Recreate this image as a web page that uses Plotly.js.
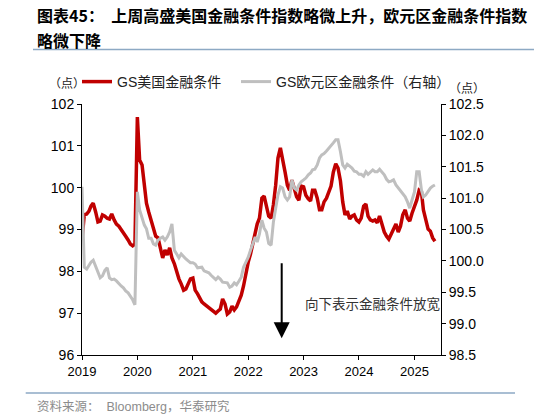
<!DOCTYPE html>
<html><head><meta charset="utf-8">
<script src="https://cdn.plot.ly/plotly-3.0.1.min.js"></script>
<style>html,body{margin:0;padding:0;background:#fff}#c{width:534px;height:417px}</style>
</head><body><div id="c"></div>
<script>
// semi-monthly observations (1st and 16th of each month), Jan 2019 – May 2025
var startYear = 2019;
var nPoints = 154;
var usFCI = [
98.75,99.35,99.37,99.44,99.56,99.63,99.42,99.18,99.20,99.35,99.32,99.27,99.25,99.37,99.23,99.13,99.08,99.01,98.94,98.84,98.75,98.65,98.61,98.65,
101.69,100.66,100.54,99.99,99.63,99.42,99.23,99.04,98.84,98.80,98.56,98.32,98.51,98.39,98.56,98.32,98.18,97.98,97.82,97.70,97.55,97.58,97.72,97.82,
97.84,97.55,97.46,97.36,97.27,97.22,97.17,97.15,97.10,97.05,97.00,97.05,97.10,97.34,97.22,96.98,97.03,97.17,97.08,97.15,97.29,97.43,97.65,97.96,
98.22,98.41,98.70,98.92,99.13,99.27,99.75,99.80,99.54,99.32,99.27,99.59,100.06,100.71,100.95,100.71,100.37,100.06,99.94,100.18,99.99,99.78,99.70,100.04,
100.02,99.82,99.73,99.68,99.94,99.94,99.75,99.47,99.47,99.66,99.75,99.87,100.04,100.37,100.57,100.47,100.16,99.66,99.35,99.44,99.25,99.32,99.35,99.23,
99.18,99.27,99.56,99.61,99.32,99.23,99.20,99.23,99.16,99.32,99.08,98.94,98.84,98.77,98.89,99.01,99.13,98.94,99.08,99.35,99.47,99.27,99.20,99.39,
99.56,99.70,99.94,99.90,99.47,99.27,99.01,98.96,98.80,98.72
];
var euFCI = [
101.18,99.90,99.87,99.93,99.98,100.01,99.90,99.82,99.73,99.76,99.85,99.89,99.73,99.70,99.71,99.68,99.63,99.60,99.57,99.52,99.49,99.44,99.38,99.30,
101.10,100.81,100.67,100.57,100.51,100.36,100.36,100.27,100.25,100.33,100.36,100.38,100.33,100.38,100.46,100.59,100.17,100.11,100.05,100.11,100.06,100.03,100.00,99.97,
99.97,99.95,99.89,99.90,99.90,99.84,99.82,99.81,99.77,99.74,99.70,99.74,99.71,99.66,99.66,99.65,99.58,99.60,99.65,99.62,99.68,99.74,99.90,99.98,
100.06,100.17,100.28,100.38,100.30,100.43,100.65,100.52,100.46,100.28,100.25,100.62,100.84,101.05,101.18,101.16,101.02,100.97,101.02,101.29,101.16,101.13,101.21,101.26,
101.29,101.32,101.37,101.40,101.45,101.46,101.53,101.64,101.69,101.71,101.75,101.80,101.83,101.88,101.93,101.93,101.74,101.53,101.48,101.54,101.51,101.48,101.43,101.42,
101.38,101.38,101.35,101.42,101.38,101.42,101.45,101.42,101.42,101.46,101.42,101.37,101.30,101.26,101.27,101.29,101.21,101.16,101.13,101.08,101.02,100.94,100.84,100.97,
101.10,101.42,101.42,101.13,101.02,101.05,101.11,101.16,101.19,101.21
];
var seriesNames = ['GS美国金融条件', 'GS欧元区金融条件（右轴）'];
var yearTicks = ['2019','2020','2021','2022','2023','2024','2025'];
var titleLines = ['图表45：  上周高盛美国金融条件指数略微上升，欧元区金融条件指数', '略微下降'];
var noteText = '向下表示金融条件放宽';
var sourceText = '资料来源：  Bloomberg，华泰研究';
var unitText = '（点）';

var dates = [];
(function(){
  for (var k = 0; k < nPoints; k++) {
    var m = Math.floor(k / 2);
    var y = startYear + Math.floor(m / 12);
    var mo = (m % 12) + 1;
    var d = (k % 2 === 0) ? '01' : '16';
    dates.push(y + '-' + (mo < 10 ? '0' + mo : mo) + '-' + d);
  }
})();

var tickFont = {family: 'Liberation Sans, Arial, sans-serif', size: 14, color: '#000'};
var cjk = 'Noto Sans CJK SC, sans-serif';
var legFont = {family: 'Liberation Sans, Noto Sans CJK SC, sans-serif', size: 14, color: '#222'};

var traces = [
  {x: dates, y: euFCI, name: seriesNames[1], type: 'scatter', mode: 'lines', yaxis: 'y2',
   line: {color: '#BFBFBF', width: 3}, legend: 'legend2'},
  {x: dates, y: usFCI, name: seriesNames[0], type: 'scatter', mode: 'lines', yaxis: 'y',
   line: {color: '#C00000', width: 3.5}, legend: 'legend'}
];

function px2x(p){ return (p - 82) / 359; }
function px2y(p){ return (355 - p) / 251; }

var layout = {
  width: 534, height: 417,
  margin: {l: 82, r: 93, t: 104, b: 62},
  paper_bgcolor: '#fff', plot_bgcolor: '#fff',
  showlegend: true,
  legend: {orientation: 'h', x: px2x(77), xanchor: 'left', y: px2y(82), yanchor: 'middle',
    font: legFont, bgcolor: 'rgba(0,0,0,0)'},
  legend2: {orientation: 'h', x: px2x(236), xanchor: 'left', y: px2y(82), yanchor: 'middle',
    font: legFont, bgcolor: 'rgba(0,0,0,0)'},
  xaxis: {type: 'date', range: ['2019-01-01', '2025-06-25'],
    tickvals: yearTicks.map(function(t){ return t + '-01-01'; }), ticktext: yearTicks,
    ticks: 'outside', ticklen: 4, tickcolor: '#000', showline: true, linecolor: '#000', linewidth: 1,
    showgrid: false, zeroline: false, tickfont: {family: 'Liberation Sans, Arial, sans-serif', size: 13, color: '#000'}},
  yaxis: {range: [96, 102], dtick: 1, tick0: 96, ticks: 'outside', ticklen: 4, tickcolor: '#000',
    showline: true, linecolor: '#000', linewidth: 1, showgrid: false, zeroline: false, tickfont: tickFont},
  yaxis2: {range: [98.5, 102.5], dtick: 0.5, tick0: 98.5, tickformat: '.1f', overlaying: 'y', side: 'right',
    ticks: 'outside', ticklen: 4, tickcolor: '#000', showline: true, linecolor: '#000', linewidth: 1,
    showgrid: false, zeroline: false, tickfont: tickFont},
  shapes: [
    {type: 'line', xref: 'paper', yref: 'paper', x0: px2x(33), x1: px2x(534), y0: px2y(49.5), y1: px2y(49.5),
     line: {color: '#8DA9C4', width: 1.5}},
    {type: 'line', xref: 'paper', yref: 'paper', x0: px2x(25.7), x1: px2x(515), y0: px2y(393), y1: px2y(393),
     line: {color: '#A9BED3', width: 2}}
  ],
  annotations: [
    {text: '<b>' + titleLines[0] + '</b>', xref: 'paper', yref: 'paper', x: px2x(35), y: px2y(15.4),
     xanchor: 'left', yanchor: 'middle', showarrow: false, font: {family: cjk, size: 16, color: '#000'}},
    {text: '<b>' + titleLines[1] + '</b>', xref: 'paper', yref: 'paper', x: px2x(35), y: px2y(40.3),
     xanchor: 'left', yanchor: 'middle', showarrow: false, font: {family: cjk, size: 16, color: '#000'}},
    {text: unitText, xref: 'paper', yref: 'paper', x: px2x(67), y: px2y(82), xanchor: 'center', yanchor: 'middle',
     showarrow: false, font: {family: cjk, size: 12, color: '#222'}},
    {text: unitText, xref: 'paper', yref: 'paper', x: px2x(467), y: px2y(87), xanchor: 'center', yanchor: 'middle',
     showarrow: false, font: {family: cjk, size: 12, color: '#222'}},
    {text: noteText, xref: 'paper', yref: 'paper', x: px2x(441.7), y: px2y(302.7), xanchor: 'right', yanchor: 'middle',
     showarrow: false, font: {family: cjk, size: 13.5, color: '#333'}},
    {text: '', xref: 'paper', yref: 'paper', x: px2x(281.7), y: px2y(338.3), ax: 0, ay: -76.6,
     showarrow: true, arrowhead: 2, arrowsize: 1.6, arrowwidth: 2, arrowcolor: '#000', standoff: 0},
    {text: sourceText, xref: 'paper', yref: 'paper', x: px2x(35), y: px2y(406), xanchor: 'left', yanchor: 'middle',
     showarrow: false, font: {family: 'Liberation Sans, Noto Sans CJK SC, sans-serif', size: 12.5, color: '#8c8c8c'}}
  ]
};

Plotly.newPlot('c', traces, layout, {displayModeBar: false, staticPlot: true});
</script></body></html>
